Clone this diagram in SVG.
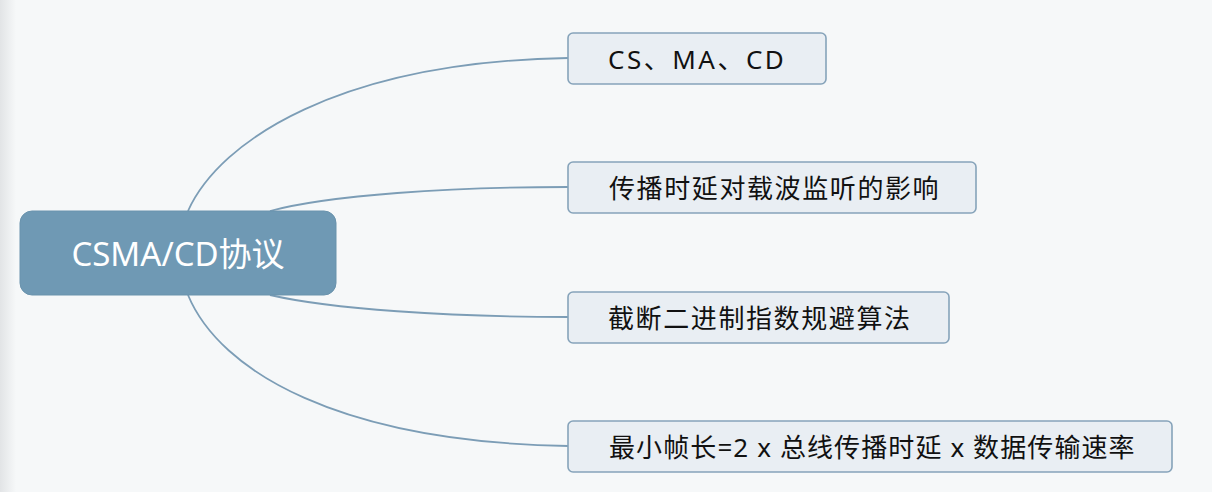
<svg xmlns="http://www.w3.org/2000/svg" width="1212" height="492" viewBox="0 0 1212 492">
<defs>
<linearGradient id="edge" x1="0" y1="0" x2="1" y2="0">
<stop offset="0" stop-color="#e2e4e6"/>
<stop offset="1" stop-color="#f6f8f9"/>
</linearGradient>
<style>
.bg{fill:#f6f8f9}
.conn path{fill:none;stroke:#7c9db6;stroke-width:1.8}
.root rect{fill:#6f99b4;stroke:#6a93ad;stroke-width:1}
.root text{fill:#ffffff;font-family:"Noto Sans","Noto Sans CJK SC",sans-serif;font-size:33px;text-anchor:middle;dominant-baseline:central}
.child rect{fill:#e9eef3;stroke:#86a3ba;stroke-width:1.6}
.child text{fill:#111111;font-family:"Noto Sans","Noto Sans CJK SC",sans-serif;font-size:26px;letter-spacing:1.6px;dominant-baseline:central}
</style>
</defs>
<rect class="bg" x="0" y="0" width="1212" height="492"/>
<rect x="0" y="0" width="16" height="492" fill="url(#edge)"/>
<g id="connectors" class="conn">
<path d="M188,211 C220,140 340,62 568,58"/>
<path d="M270,211 C330,195 450,187 568,187"/>
<path d="M270,295 C330,309 450,317 568,317"/>
<path d="M188,295 C220,372 340,442 568,446"/>
</g>
<g id="root" class="root">
<rect x="20" y="211" width="316" height="84" rx="12" ry="12"/>
<text x="178" y="253">CSMA/CD协议</text>
</g>
<g id="n1" class="child">
<rect x="568" y="33" width="258" height="51" rx="5" ry="5"/>
<text x="608" y="58.5" style="letter-spacing:2.5px">CS、MA、CD</text>
</g>
<g id="n2" class="child">
<rect x="568" y="162" width="408" height="51" rx="5" ry="5"/>
<text x="609" y="187.5">传播时延对载波监听的影响</text>
</g>
<g id="n3" class="child">
<rect x="568" y="292" width="381" height="51" rx="5" ry="5"/>
<text x="608" y="317.5">截断二进制指数规避算法</text>
</g>
<g id="n4" class="child">
<rect x="568" y="421" width="604" height="51" rx="5" ry="5"/>
<text x="609" y="446.5" style="letter-spacing:1.1px">最小帧长=2 x 总线传播时延 x 数据传输速率</text>
</g>
</svg>
